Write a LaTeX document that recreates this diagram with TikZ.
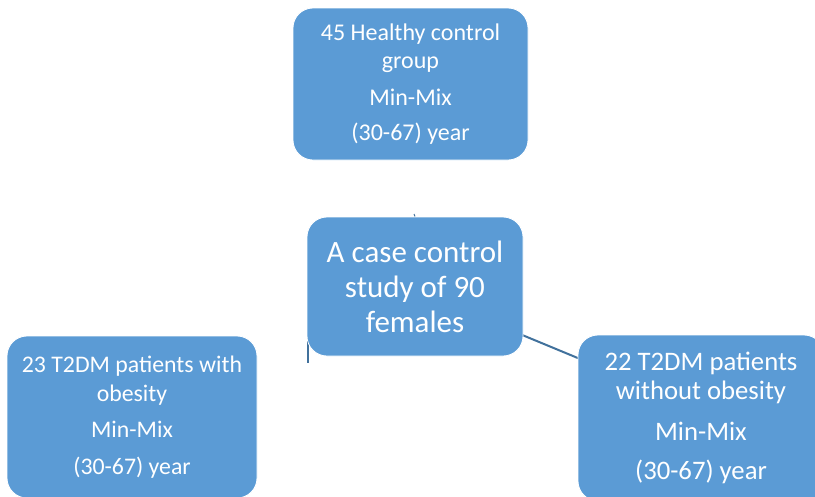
\documentclass[tikz,border=0pt]{standalone}
\usepackage{fontspec}
\setmainfont{Carlito}
\usetikzlibrary{backgrounds}
\definecolor{boxblue}{HTML}{5B9BD5}
\definecolor{lineblue}{HTML}{41719C}
\tikzset{
  box/.style={draw=white, line width=0.8pt, fill=boxblue, rounded corners=20pt,
    text=white, align=center, inner sep=0pt},
  link/.style={draw=lineblue, line width=2pt}
}
\begin{document}
\begin{tikzpicture}[x=1pt,y=-1pt]
\useasboundingbox (0,0) rectangle (815,496);
\clip (0,0) rectangle (815,496);
\node[box, minimum width=235pt, minimum height=152pt, font=\fontsize{24}{28}\selectfont] (top) at (410.5,84)
  {45 Healthy control\\ group\\[9pt] Min-Mix\\[7pt] (30-67) year};
\node[box, minimum width=216pt, minimum height=139pt, font=\fontsize{31}{35}\selectfont] (study) at (415,286.5)
  {A case control\\ study of 90\\ females};
\node[box, minimum width=250pt, minimum height=162pt, font=\fontsize{23.8}{29}\selectfont] (left) at (132,417)
  {23 T2DM patients with\\ obesity\\[7pt] Min-Mix\\[8pt] (30-67) year};
\node[box, minimum width=246pt, minimum height=166pt, font=\fontsize{26.7}{29}\selectfont] (right) at (701,418)
  {22 T2DM patients\\ without obesity\\[12pt] Min-Mix\\[10pt] (30-67) year};
\coordinate (tick) at (414,214);
\coordinate (ltop) at (308,330);
\coordinate (lbot) at (308,363);
\coordinate (rs) at (515,332);
\coordinate (re) at (585,361);
\begin{scope}[on background layer]
  \draw[lineblue, line width=1pt] (tick) -- (study.north);
  \draw[link] (ltop) -- (lbot);
  \draw[link] (rs) -- (re);
\end{scope}
\end{tikzpicture}
\end{document}
